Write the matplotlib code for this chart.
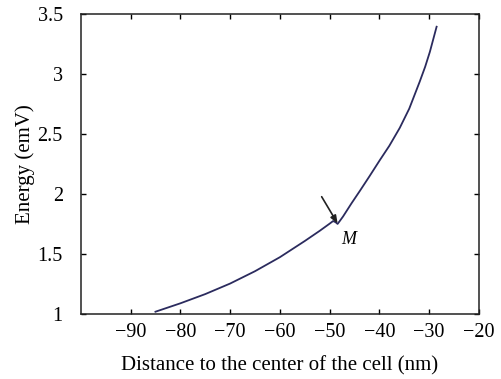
import matplotlib
matplotlib.use("Agg")
import matplotlib.pyplot as plt

distance_nm = [-85.0, -80.0, -75.0, -70.0, -65.0, -60.0, -55.0, -52.0, -50.0,
               -49.3, -48.8, -48.4, -48.0, -47.3, -45.6, -43.9, -42.0, -39.9,
               -38.0, -35.9, -34.0, -31.9, -30.8, -29.85, -28.5]
energy_emv = [1.015, 1.085, 1.162, 1.25, 1.353, 1.47, 1.605, 1.69, 1.75,
              1.772, 1.762, 1.748, 1.77, 1.81, 1.92, 2.025, 2.145, 2.281,
              2.40, 2.55, 2.71, 2.935, 3.06, 3.185, 3.394]
x_ticks = [-90, -80, -70, -60, -50, -40, -30, -20]
y_ticks = [1, 1.5, 2, 2.5, 3, 3.5]
y_tick_labels = ["1", "1.5", "2", "2.5", "3", "3.5"]
point_m = (-48.4, 1.752)
arrow_start = (-51.6, 1.975)

plt.rcParams['font.family'] = ['Liberation Serif', 'DejaVu Serif']

fig = plt.figure(figsize=(5.02, 3.79), dpi=100)
ax = fig.add_axes([0.161, 0.1728, 0.793, 0.7902])

ax.plot(distance_nm, energy_emv, color='#2b2b5e', lw=1.3, solid_joinstyle='round')
ax.annotate('', xy=point_m, xytext=arrow_start,
            arrowprops=dict(arrowstyle='-|>,head_length=0.45,head_width=0.18',
                            color='#222222', lw=1.2, shrinkA=0, shrinkB=0))
ax.text(-46.1, 1.62, 'M', fontsize=13, fontstyle='italic', ha='center', va='center')

ax.set_xlim(-100, -20)
ax.set_ylim(1, 3.5)
ax.set_xticks(x_ticks)
ax.set_yticks(y_ticks)
ax.set_yticklabels(y_tick_labels)
ax.tick_params(direction='in', top=True, right=True, length=3.5, width=1,
               labelsize=14.5)
ax.tick_params(axis='y', pad=13)
ax.tick_params(axis='x', pad=7)
for s in ax.spines.values():
    s.set_linewidth(1.1)
    s.set_color('#222222')

ax.set_xlabel('Distance to the center of the cell (nm)', fontsize=15, labelpad=10)
ax.set_ylabel('Energy (emV)', fontsize=15, labelpad=2)

fig.savefig('out.png', dpi=100)
